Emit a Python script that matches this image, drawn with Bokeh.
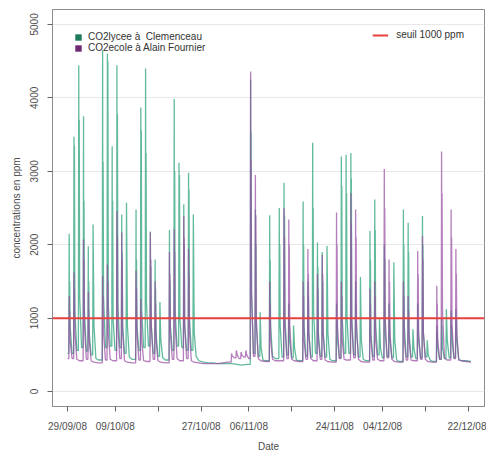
import numpy as np
from bokeh.plotting import figure
from bokeh.models import Legend, LegendItem, FixedTicker, Range1d, Span
from bokeh.embed import file_html
from bokeh.resources import INLINE

# Day 0 = Monday 29/09/2008. One entry per calendar day (0..84).
# Main daily peak CO2 (ppm); None = no class that day.
lycee_max = [2150, 3470, 4444, 3750, 1980, 2276, None,
             4650, 4600, 3340, 4444, 2410, 2570, None,
             2480, 3870, 4400, 2180, 1800, 1220, None,
             2200, 3984, 3116, 2550, 2980, 2410,
             None, None, None, None, None, None, None, None, None, None, None,
             4250, 2480, 1080, None,
             2400, None, 2500, 2845, 1200, 900, None,
             2590, 1500, 3390, 2030, 1900, 1982, None,
             1200, 3200, 3225, 3250, 1500, 1560, None,
             2186, 2615, 1000, 2000, 1200, 1760, None,
             2480, 2300, 850, 1200, 2390, 700, None,
             900, 1000, 1125, 1100, 1125, None, None, None]
# Second (afternoon) peak (ppm)
lycee_pm = [1500, 3350, 3700, 2600, 1500, None, None,
            3130, 4500, 2600, 3780, 1900, None, None,
            1800, 3560, 3250, 1700, 1400, None, None,
            1500, 3000, 2950, 2000, 2750, None,
            None, None, None, None, None, None, None, None, None, None, None,
            3540, 2000, None, None,
            1800, None, 2000, 2400, 1000, None, None,
            2000, 1300, 2500, 1700, 1500, None, None,
            1000, 2800, 2700, 2900, 1200, None, None,
            1800, 2200, None, 1800, 1000, None, None,
            2000, 1900, None, 1000, 2000, None, None,
            800, 900, None, 900, 1000, None, None, None]
# Level at the end of the school day (ppm)
lycee_eve = [900, 1100, 1300, 1100, 800, 900, None,
             1300, 1200, 1000, 1200, 900, 900, None,
             900, 1100, 1200, 900, 800, 700, None,
             900, 1100, 1000, 900, 1000, 800,
             None, None, None, None, None, None, None, None, None, None, None,
             1300, 900, 600, None,
             900, None, 900, 1000, 700, 600, None,
             900, 800, 1100, 800, 800, 800, None,
             700, 1000, 1000, 1000, 800, 700, None,
             800, 900, 600, 800, 700, 700, None,
             900, 800, 600, 700, 800, 500, None,
             600, 600, 700, 700, 700, None, None, None]
# Overnight minimum after each day (ppm)
lycee_min = [520, 560, 600, 550, 500, 450, 430,
             600, 620, 560, 600, 520, 470, 440,
             560, 600, 620, 520, 480, 460, 430,
             560, 620, 600, 560, 560, 480,
             420, 400, 390, 390, 380, 380, 380, 380, 370, 360, 370,
             520, 480, 430, 420,
             480, 450, 470, 500, 460, 430, 420,
             480, 470, 520, 480, 470, 440, 420,
             460, 520, 520, 500, 470, 440, 420,
             480, 500, 460, 480, 460, 430, 410,
             470, 470, 450, 460, 470, 430, 410,
             440, 450, 460, 460, 440, 420, 420, 410]

ecole_max = [1300, 1620, None, 2070, 1360, None, None,
             1576, 1730, None, 2457, 2167, None, None,
             1644, 1260, None, 2167, 1500, None, None,
             1900, 2210, None, 2390, 1940, None,
             None, None, None, None, None, None, None, 520, 560, 540, 560,
             4360, 2950, None, None,
             1500, None, None, 2500, 2344, None, None,
             1500, 1940, None, 1600, 1860, None, None,
             2440, 1500, None, 2700, 2480, None, None,
             1400, 1500, None, 3030, 1800, None, None,
             1500, 1300, None, 1915, 2118, None, None,
             1440, 3270, None, 2480, 1940, None, None, None]
ecole_pm = [1100, 1400, None, 1800, 1100, None, None,
            1300, 1500, None, 2100, 1800, None, None,
            1400, 1100, None, 1800, 1200, None, None,
            1600, 1900, None, 2100, 1600, None,
            None, None, None, None, None, None, None, None, None, None, None,
            3150, 2400, None, None,
            1200, None, None, 2100, 2000, None, None,
            1300, 1600, None, 1400, 1600, None, None,
            2000, 1300, None, 2300, 2100, None, None,
            1200, 1300, None, 2500, 1500, None, None,
            1300, 1100, None, 1600, 1800, None, None,
            1200, 2700, None, 2100, 1600, None, None, None]
ecole_eve = [700, 800, None, 900, 700, None, None,
             800, 800, None, 900, 800, None, None,
             800, 700, None, 900, 700, None, None,
             800, 900, None, 900, 800, None,
             None, None, None, None, None, None, None, 480, 500, 490, 500,
             1400, 1000, None, None,
             700, None, None, 900, 900, None, None,
             700, 800, None, 700, 800, None, None,
             900, 700, None, 900, 900, None, None,
             700, 700, None, 1000, 800, None, None,
             700, 700, None, 800, 800, None, None,
             700, 1100, None, 900, 800, None, None, None]
ecole_min = [450, 440, 420, 440, 420, 400, 390,
             430, 440, 420, 450, 420, 400, 390,
             430, 420, 410, 440, 420, 400, 390,
             440, 450, 420, 450, 420, 400,
             390, 380, 380, 380, 380, 390, 400, 460, 450, 470, 450,
             480, 450, 420, 410,
             440, 420, 420, 450, 440, 420, 410,
             440, 450, 420, 440, 430, 410, 400,
             450, 440, 430, 460, 440, 410, 400,
             430, 440, 420, 460, 440, 410, 400,
             430, 430, 420, 440, 440, 410, 400,
             440, 460, 430, 450, 430, 420, 410, 400]

seuil = 1000
tick_days = [0, 10, 19, 28, 38, 47, 56, 66, 75, 84]
tick_labels = ["29/09/08", "09/10/08", "", "27/10/08", "06/11/08", "",
               "24/11/08", "04/12/08", "", "22/12/08"]
y_ticks = [0, 1000, 2000, 3000, 4000, 5000]


def daily_trace(maxima, second, evening, minima):
    t, v = [0.0], [minima[0]]
    prev = minima[0]
    for d, (mx, pm, ev, mn) in enumerate(zip(maxima, second, evening, minima)):
        if mx is not None:
            t += [d + 0.28, d + 0.36]
            v += [prev, mx]
            if pm is not None:
                t += [d + 0.41, d + 0.46]
                v += [ev, pm]
            t += [d + 0.55, d + 0.95]
            v += [ev, mn]
        else:
            t.append(d + 0.5)
            v.append(mn)
        prev = mn
    return t, v


FONT = "Liberation Sans"
GREEN = "#2ea37c"
PURPLE = "#9647a0"

p = figure(width=486, height=454, output_backend="svg", toolbar_location=None,
           x_range=Range1d(-3.14, 87.35), y_range=Range1d(-203, 5203),
           min_border_left=52, min_border_right=2, min_border_top=9, min_border_bottom=46,
           background_fill_color="white", border_fill_color="white")

p.outline_line_color = "#8c8c8c"
p.xgrid.visible = False
p.ygrid.ticker = FixedTicker(ticks=y_ticks)
p.ygrid.grid_line_color = "#e8e8e8"

for ax in (p.xaxis[0], p.yaxis[0]):
    ax.axis_line_color = "#8c8c8c"
    ax.major_tick_line_color = "#666666"
    ax.major_tick_out = 5
    ax.major_tick_in = 0
    ax.minor_tick_line_color = None
    ax.major_label_text_font = FONT
    ax.major_label_text_font_size = "10px"
    ax.major_label_text_color = "#4d4d4d"
    ax.axis_label_text_font = FONT
    ax.axis_label_text_font_size = "10px"
    ax.axis_label_text_font_style = "normal"
    ax.axis_label_text_color = "#4d4d4d"

p.xaxis.ticker = FixedTicker(ticks=tick_days)
p.xaxis.major_label_overrides = {d: lab for d, lab in zip(tick_days, tick_labels)}
p.xaxis.axis_label = "Date"
p.xaxis.major_label_standoff = 9
p.xaxis.axis_label_standoff = 6

p.yaxis.ticker = FixedTicker(ticks=y_ticks)
p.yaxis.major_label_orientation = "vertical"
p.yaxis.axis_label = "concentrations en ppm"
p.yaxis.major_label_standoff = 9
p.yaxis.axis_label_standoff = 6

tx, vx = daily_trace(lycee_max, lycee_pm, lycee_eve, lycee_min)
te, ve = daily_trace(ecole_max, ecole_pm, ecole_eve, ecole_min)
p.line(tx, vx, line_color=GREEN, line_alpha=0.75, line_width=1.3)
p.line(te, ve, line_color=PURPLE, line_alpha=0.7, line_width=1.3)

p.add_layout(Span(location=seuil, dimension="width", line_color="#e8403c", line_width=2))

nan = np.array([np.nan])
sq_g = p.quad(left=nan, right=nan, top=nan, bottom=nan, fill_color="#1e7a5a", line_color=None)
sq_p = p.quad(left=nan, right=nan, top=nan, bottom=nan, fill_color="#6e2a72", line_color=None)
red_l = p.line(x=nan, y=nan, line_color="#e8403c", line_width=2)

leg_common = dict(margin=0, spacing=0, border_line_alpha=0, background_fill_alpha=0,
                  label_text_font=FONT, label_text_font_size="10px",
                  label_text_color="#333333")
leg1 = Legend(items=[LegendItem(label="CO2lycee à  Clemenceau", renderers=[sq_g]),
                     LegendItem(label="CO2ecole à Alain Fournier", renderers=[sq_p])],
              location="top_left", padding=22, glyph_width=8, glyph_height=8,
              label_standoff=6, **leg_common)
leg2 = Legend(items=[LegendItem(label="seuil 1000 ppm", renderers=[red_l])],
              location="top_right", padding=20, glyph_width=16, glyph_height=10,
              label_standoff=8, **leg_common)
p.add_layout(leg1, "center")
p.add_layout(leg2, "center")

open("out.html", "w").write(file_html(p, INLINE))
